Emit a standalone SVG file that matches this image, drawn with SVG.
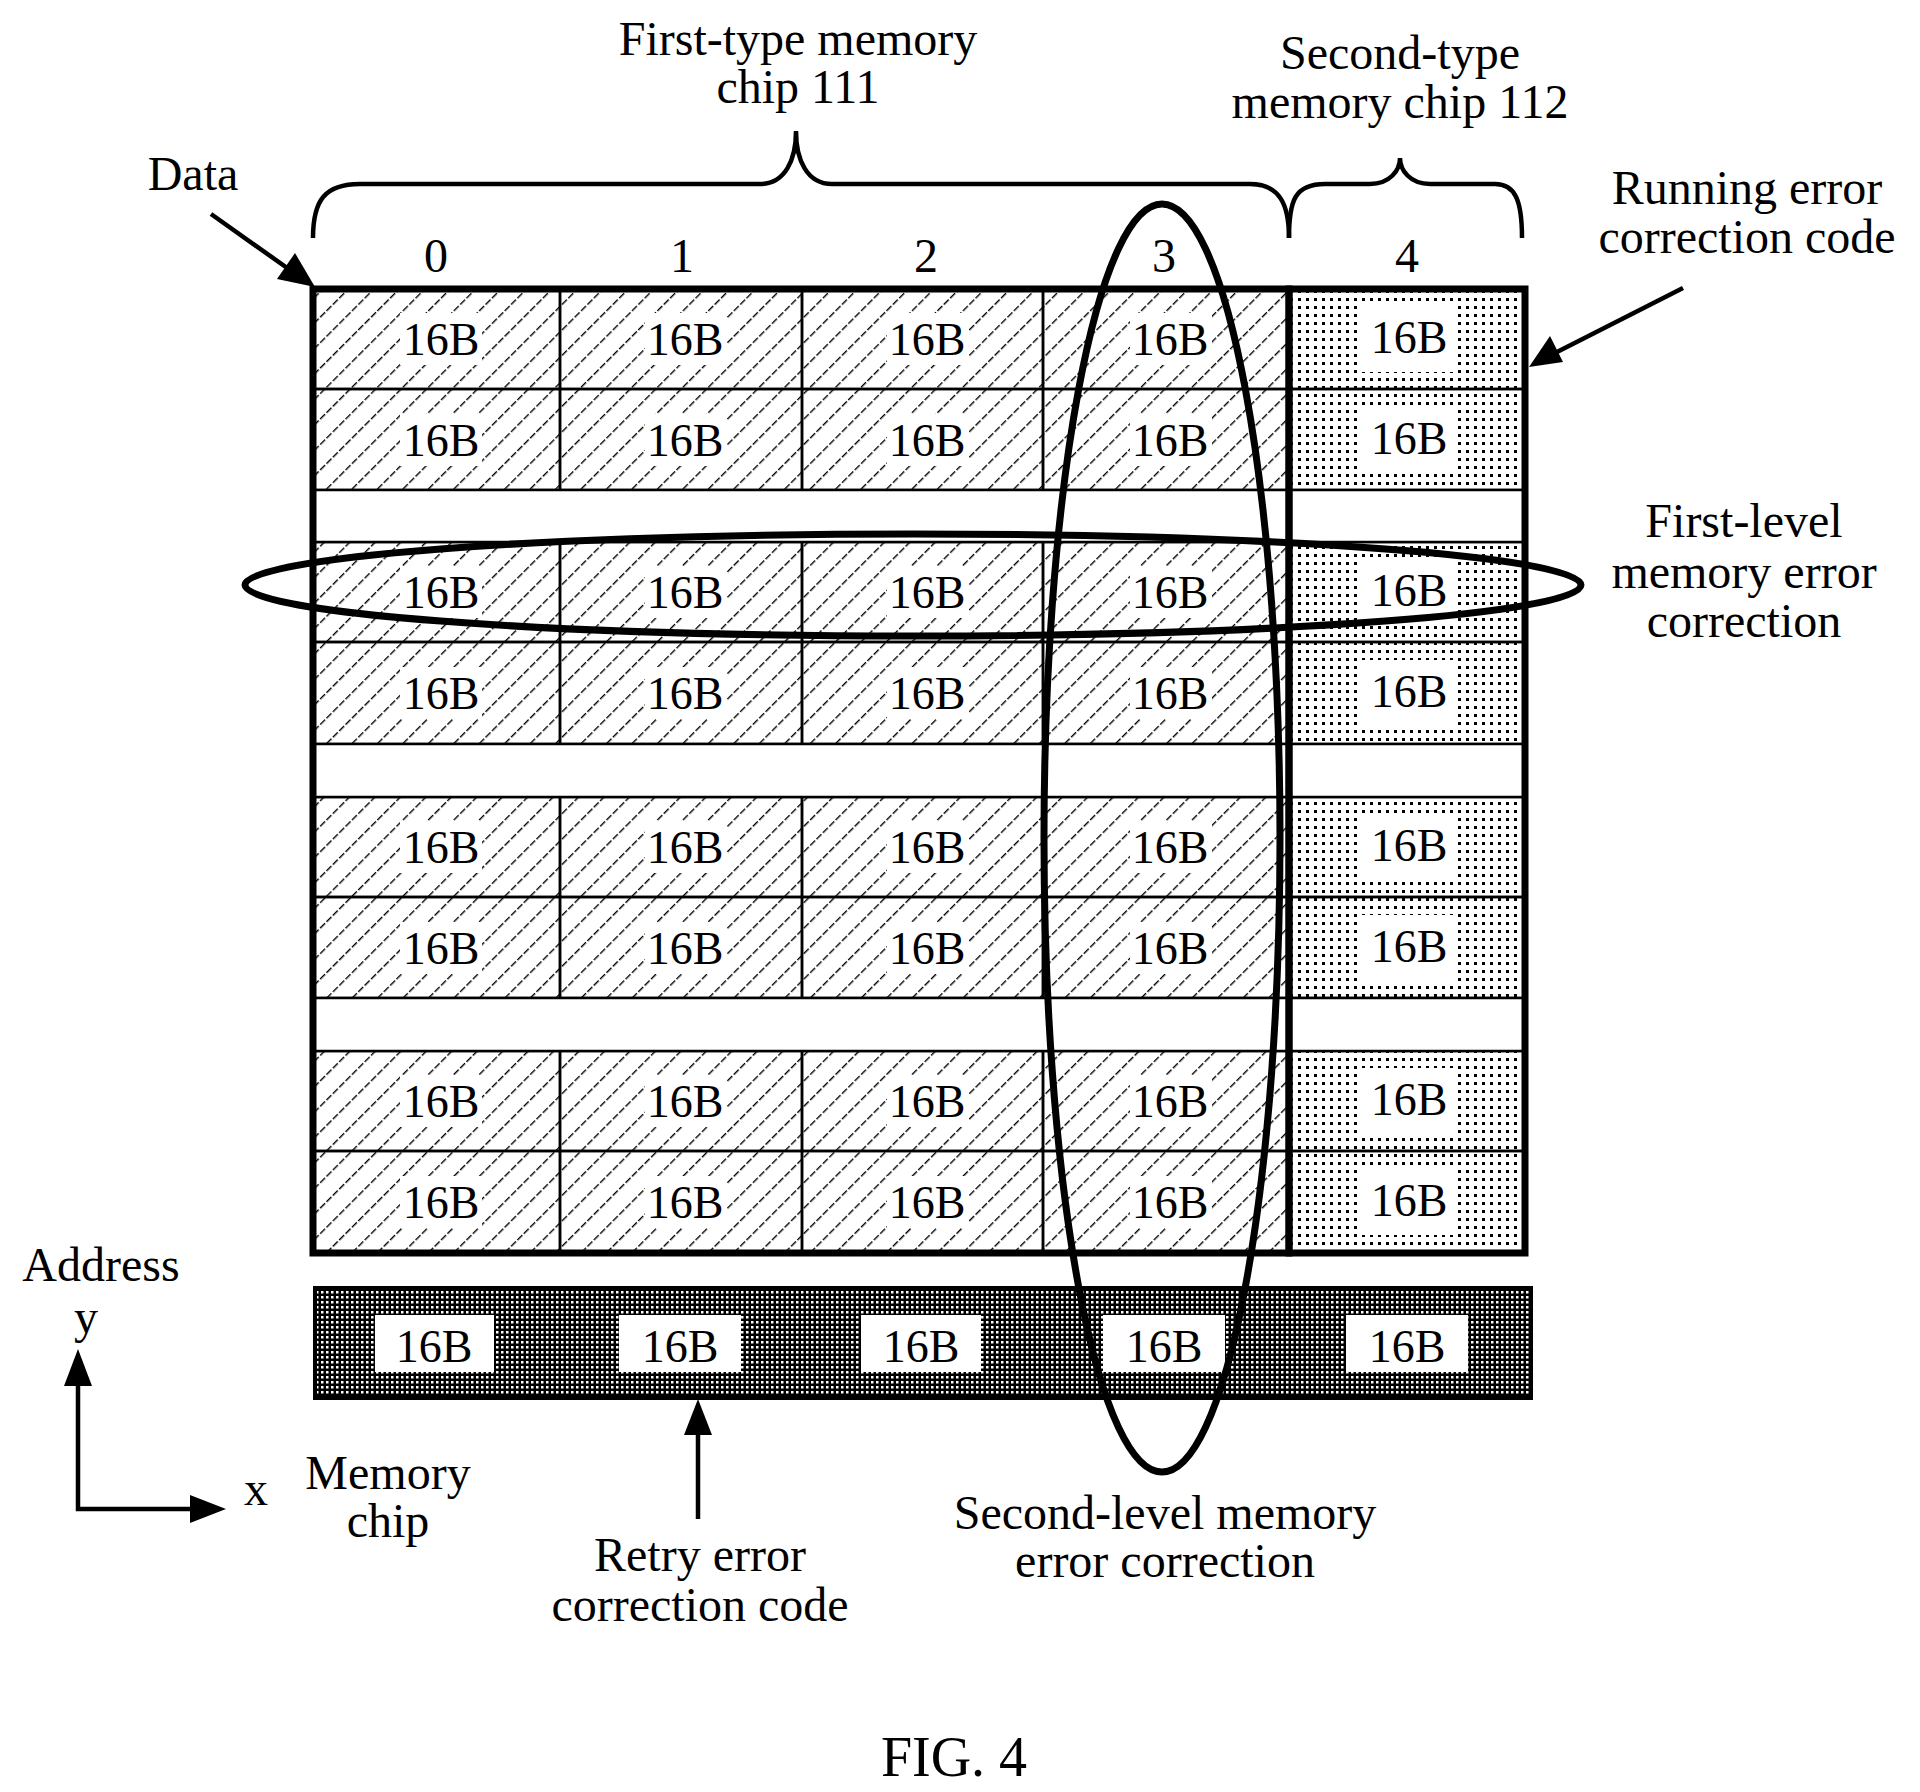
<svg xmlns="http://www.w3.org/2000/svg" width="1920" height="1792" viewBox="0 0 1920 1792">
<defs>
<pattern id="hatch" width="18" height="18" patternUnits="userSpaceOnUse" patternTransform="rotate(45)">
<line x1="0" y1="0" x2="0" y2="18" stroke="#000" stroke-width="2.8" stroke-dasharray="7,2"/>
</pattern>
<pattern id="dots" width="8" height="8" patternUnits="userSpaceOnUse">
<rect x="2" y="2" width="3" height="3" fill="#000"/>
</pattern>
<pattern id="dense" width="5" height="5" patternUnits="userSpaceOnUse">
<rect width="5" height="5" fill="#000"/>
<rect x="1" y="1" width="2.5" height="2.5" fill="#fff"/>
</pattern>
</defs>
<style>
text{font-family:"Liberation Serif","Times New Roman",serif;fill:#000;text-anchor:middle}
.lbl{font-size:48px}
.cell{font-size:46px}
.h{fill:url(#hatch);stroke:#000;stroke-width:2.5}
.d{fill:url(#dots);stroke:#000;stroke-width:2.5}
.w{fill:#fff;stroke:none}
.thick{fill:none;stroke:#000;stroke-width:7}
.line{fill:none;stroke:#000;stroke-width:4.5}
</style>
<rect width="1920" height="1792" fill="#fff"/>

<g id="labels">
<text class="lbl" x="798" y="55">First-type memory</text>
<text class="lbl" x="798" y="103">chip 111</text>
<text class="lbl" x="1400" y="69">Second-type</text>
<text class="lbl" x="1400" y="118">memory chip 112</text>
<text class="lbl" x="193" y="190">Data</text>
<text class="lbl" x="1747" y="204">Running error</text>
<text class="lbl" x="1747" y="253">correction code</text>
<text class="lbl" x="1744" y="537">First-level</text>
<text class="lbl" x="1744" y="588">memory error</text>
<text class="lbl" x="1744" y="637">correction</text>
<text class="lbl" x="436" y="272">0</text>
<text class="lbl" x="682" y="272">1</text>
<text class="lbl" x="926" y="272">2</text>
<text class="lbl" x="1164" y="272">3</text>
<text class="lbl" x="1407" y="272">4</text>
<text class="lbl" x="101" y="1281">Address</text>
<text class="lbl" x="86" y="1333">y</text>
<text class="lbl" x="256" y="1505">x</text>
<text class="lbl" x="388" y="1489">Memory</text>
<text class="lbl" x="388" y="1537">chip</text>
<text class="lbl" x="700" y="1571">Retry error</text>
<text class="lbl" x="700" y="1621">correction code</text>
<text class="lbl" x="1165" y="1529">Second-level memory</text>
<text class="lbl" x="1165" y="1577">error correction</text>
<text x="954" y="1776" style="font-size:56px">FIG. 4</text>
</g>

<g id="braces" class="line">
<path d="M313,238 C313,200 325,184 360,184 L760,184 C785,184 796,160 796,131 C796,160 807,184 832,184 L1250,184 C1280,184 1289,205 1289,238"/>
<path d="M1289,238 C1289,200 1295,184 1325,184 L1370,184 C1390,184 1400,170 1400,158 C1400,170 1410,184 1430,184 L1495,184 C1515,184 1522,200 1522,238"/>
</g>

<g id="grid">
<g id="rows">
<g id="r1">
<rect class="h" x="313" y="289" width="247" height="100"/><rect class="h" x="560" y="289" width="242" height="100"/><rect class="h" x="802" y="289" width="241" height="100"/><rect class="h" x="1043" y="289" width="246" height="100"/><rect class="d" x="1289" y="289" width="236" height="100"/>
</g>
<g id="r2">
<rect class="h" x="313" y="389" width="247" height="101"/><rect class="h" x="560" y="389" width="242" height="101"/><rect class="h" x="802" y="389" width="241" height="101"/><rect class="h" x="1043" y="389" width="246" height="101"/><rect class="d" x="1289" y="389" width="236" height="101"/>
</g>
<g id="r3">
<rect class="h" x="313" y="542" width="247" height="100"/><rect class="h" x="560" y="542" width="242" height="100"/><rect class="h" x="802" y="542" width="241" height="100"/><rect class="h" x="1043" y="542" width="246" height="100"/><rect class="d" x="1289" y="542" width="236" height="100"/>
</g>
<g id="r4">
<rect class="h" x="313" y="642" width="247" height="102"/><rect class="h" x="560" y="642" width="242" height="102"/><rect class="h" x="802" y="642" width="241" height="102"/><rect class="h" x="1043" y="642" width="246" height="102"/><rect class="d" x="1289" y="642" width="236" height="102"/>
</g>
<g id="r5">
<rect class="h" x="313" y="797" width="247" height="100"/><rect class="h" x="560" y="797" width="242" height="100"/><rect class="h" x="802" y="797" width="241" height="100"/><rect class="h" x="1043" y="797" width="246" height="100"/><rect class="d" x="1289" y="797" width="236" height="100"/>
</g>
<g id="r6">
<rect class="h" x="313" y="897" width="247" height="101"/><rect class="h" x="560" y="897" width="242" height="101"/><rect class="h" x="802" y="897" width="241" height="101"/><rect class="h" x="1043" y="897" width="246" height="101"/><rect class="d" x="1289" y="897" width="236" height="101"/>
</g>
<g id="r7">
<rect class="h" x="313" y="1051" width="247" height="100"/><rect class="h" x="560" y="1051" width="242" height="100"/><rect class="h" x="802" y="1051" width="241" height="100"/><rect class="h" x="1043" y="1051" width="246" height="100"/><rect class="d" x="1289" y="1051" width="236" height="100"/>
</g>
<g id="r8">
<rect class="h" x="313" y="1151" width="247" height="102"/><rect class="h" x="560" y="1151" width="242" height="102"/><rect class="h" x="802" y="1151" width="241" height="102"/><rect class="h" x="1043" y="1151" width="246" height="102"/><rect class="d" x="1289" y="1151" width="236" height="102"/>
</g>
<g id="gaps" fill="#fff" stroke="#000" stroke-width="2.5">
<rect x="313" y="490" width="1212" height="52"/>
<rect x="313" y="744" width="1212" height="53"/>
<rect x="313" y="998" width="1212" height="53"/>
</g>
</g>
<g id="cellText">
<g id="t-bg" class="w">
<rect x="400" y="313" width="82" height="52"/><rect x="645" y="313" width="82" height="52"/><rect x="887" y="313" width="82" height="52"/><rect x="1130" y="313" width="82" height="52"/><rect x="1360" y="306" width="94" height="66"/>
<rect x="400" y="414" width="82" height="52"/><rect x="645" y="414" width="82" height="52"/><rect x="887" y="414" width="82" height="52"/><rect x="1130" y="414" width="82" height="52"/><rect x="1360" y="407" width="94" height="66"/>
<rect x="400" y="566" width="82" height="52"/><rect x="645" y="566" width="82" height="52"/><rect x="887" y="566" width="82" height="52"/><rect x="1130" y="566" width="82" height="52"/><rect x="1360" y="559" width="94" height="66"/>
<rect x="400" y="667" width="82" height="52"/><rect x="645" y="667" width="82" height="52"/><rect x="887" y="667" width="82" height="52"/><rect x="1130" y="667" width="82" height="52"/><rect x="1360" y="660" width="94" height="66"/>
<rect x="400" y="821" width="82" height="52"/><rect x="645" y="821" width="82" height="52"/><rect x="887" y="821" width="82" height="52"/><rect x="1130" y="821" width="82" height="52"/><rect x="1360" y="814" width="94" height="66"/>
<rect x="400" y="922" width="82" height="52"/><rect x="645" y="922" width="82" height="52"/><rect x="887" y="922" width="82" height="52"/><rect x="1130" y="922" width="82" height="52"/><rect x="1360" y="915" width="94" height="66"/>
<rect x="400" y="1075" width="82" height="52"/><rect x="645" y="1075" width="82" height="52"/><rect x="887" y="1075" width="82" height="52"/><rect x="1130" y="1075" width="82" height="52"/><rect x="1360" y="1068" width="94" height="66"/>
<rect x="400" y="1176" width="82" height="52"/><rect x="645" y="1176" width="82" height="52"/><rect x="887" y="1176" width="82" height="52"/><rect x="1130" y="1176" width="82" height="52"/><rect x="1360" y="1169" width="94" height="66"/>
</g>
<g>
<text class="cell" x="441" y="355">16B</text><text class="cell" x="685" y="355">16B</text><text class="cell" x="927" y="355">16B</text><text class="cell" x="1170" y="355">16B</text><text class="cell" x="1409" y="353">16B</text>
<text class="cell" x="441" y="456">16B</text><text class="cell" x="685" y="456">16B</text><text class="cell" x="927" y="456">16B</text><text class="cell" x="1170" y="456">16B</text><text class="cell" x="1409" y="454">16B</text>
<text class="cell" x="441" y="608">16B</text><text class="cell" x="685" y="608">16B</text><text class="cell" x="927" y="608">16B</text><text class="cell" x="1170" y="608">16B</text><text class="cell" x="1409" y="606">16B</text>
<text class="cell" x="441" y="709">16B</text><text class="cell" x="685" y="709">16B</text><text class="cell" x="927" y="709">16B</text><text class="cell" x="1170" y="709">16B</text><text class="cell" x="1409" y="707">16B</text>
<text class="cell" x="441" y="863">16B</text><text class="cell" x="685" y="863">16B</text><text class="cell" x="927" y="863">16B</text><text class="cell" x="1170" y="863">16B</text><text class="cell" x="1409" y="861">16B</text>
<text class="cell" x="441" y="964">16B</text><text class="cell" x="685" y="964">16B</text><text class="cell" x="927" y="964">16B</text><text class="cell" x="1170" y="964">16B</text><text class="cell" x="1409" y="962">16B</text>
<text class="cell" x="441" y="1117">16B</text><text class="cell" x="685" y="1117">16B</text><text class="cell" x="927" y="1117">16B</text><text class="cell" x="1170" y="1117">16B</text><text class="cell" x="1409" y="1115">16B</text>
<text class="cell" x="441" y="1218">16B</text><text class="cell" x="685" y="1218">16B</text><text class="cell" x="927" y="1218">16B</text><text class="cell" x="1170" y="1218">16B</text><text class="cell" x="1409" y="1216">16B</text>
</g>
</g>
<rect class="thick" x="313" y="289" width="976" height="964"/>
<rect class="thick" x="1289" y="289" width="236" height="964"/>
</g>

<g id="retry">
<rect x="315" y="1288" width="1216" height="110" fill="url(#dense)" stroke="#000" stroke-width="4"/>
<g class="w"><rect x="375" y="1315" width="119" height="57"/><rect x="619" y="1315" width="122" height="57"/><rect x="861" y="1315" width="120" height="57"/><rect x="1103" y="1315" width="122" height="57"/><rect x="1346" y="1315" width="122" height="57"/></g>
<text class="cell" x="434" y="1362">16B</text><text class="cell" x="680" y="1362">16B</text><text class="cell" x="921" y="1362">16B</text><text class="cell" x="1164" y="1362">16B</text><text class="cell" x="1407" y="1362">16B</text>
</g>

<g id="ellipses" class="thick">
<ellipse cx="913" cy="585" rx="668" ry="51"/>
<ellipse cx="1162" cy="838" rx="118" ry="634"/>
</g>

<g id="connectors" fill="#000" stroke="#000" stroke-width="4.5">
<line x1="211" y1="214" x2="290" y2="270"/><path d="M315,287 L277,279 L295,253 z" stroke="none"/>
<line x1="1683" y1="288" x2="1555" y2="353"/><path d="M1529,367 L1550,336 L1563,362 z" stroke="none"/>
<line x1="698" y1="1519" x2="698" y2="1430"/><path d="M698,1399 L684,1435 L712,1435 z" stroke="none"/>
<polyline points="78,1380 78,1509 190,1509" fill="none"/>
<path d="M78,1349 L64,1386 L92,1386 z" stroke="none"/>
<path d="M226,1509 L190,1495 L190,1523 z" stroke="none"/>
</g>
</svg>
